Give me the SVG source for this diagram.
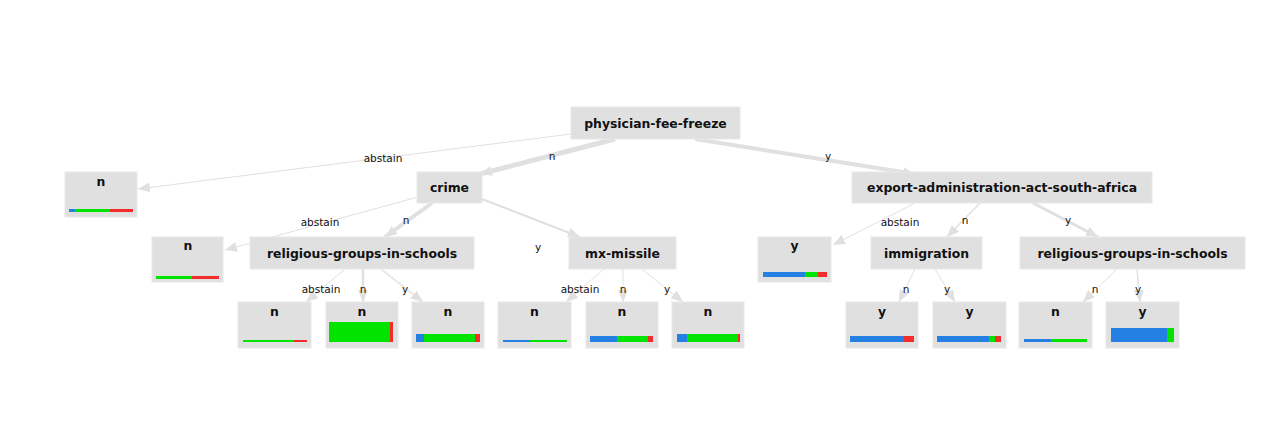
<svg xmlns="http://www.w3.org/2000/svg" width="1280" height="422" viewBox="0 0 1280 422">
<defs>
<style>
.box{fill:#e0e0e0;stroke:#e8e8e8;stroke-width:1}
.lbl{font-family:"DejaVu Sans",sans-serif;font-weight:bold;font-size:12.4px;fill:#111;text-anchor:middle}
.el{font-family:"DejaVu Sans",sans-serif;font-size:10.5px;fill:#111;text-anchor:middle}
.e{stroke:#e0e0e0;fill:none;stroke-linecap:butt}
.b{fill:#2480e2}
.g{fill:#00e400}
.r{fill:#f42c2c}
</style>
<marker id="ah" markerUnits="userSpaceOnUse" viewBox="0 0 12 10" markerWidth="12" markerHeight="10" refX="12" refY="5" orient="auto">
<path d="M0,0 L12,5 L0,10 z" fill="#e0e0e0"/>
</marker>
</defs>
<rect width="1280" height="422" fill="#fff"/>
<g id="edges">
<path class="e" d="M571,134 L138,189" stroke-width="1" marker-end="url(#ah)"/>
<path class="e" d="M615,139 L480,174" stroke-width="5" marker-end="url(#ah)"/>
<path class="e" d="M695,139 L915,174" stroke-width="4" marker-end="url(#ah)"/>
<path class="e" d="M418,197 L225,250" stroke-width="1" marker-end="url(#ah)"/>
<path class="e" d="M432,203 L385,237" stroke-width="4" marker-end="url(#ah)"/>
<path class="e" d="M482,199 L580,237" stroke-width="2" marker-end="url(#ah)"/>
<path class="e" d="M345,269 L306,302" stroke-width="1" marker-end="url(#ah)"/>
<path class="e" d="M363,269 L363,302" stroke-width="2.5" marker-end="url(#ah)"/>
<path class="e" d="M381,269 L423,302" stroke-width="1.5" marker-end="url(#ah)"/>
<path class="e" d="M604,269 L566,302" stroke-width="1" marker-end="url(#ah)"/>
<path class="e" d="M623,269 L623,302" stroke-width="1" marker-end="url(#ah)"/>
<path class="e" d="M642,269 L683,302" stroke-width="1" marker-end="url(#ah)"/>
<path class="e" d="M915,203 L833,245" stroke-width="1" marker-end="url(#ah)"/>
<path class="e" d="M980,203 L947,237" stroke-width="1.5" marker-end="url(#ah)"/>
<path class="e" d="M1033,203 L1098,237" stroke-width="3" marker-end="url(#ah)"/>
<path class="e" d="M915,269 L899,302" stroke-width="1" marker-end="url(#ah)"/>
<path class="e" d="M935,269 L955,302" stroke-width="1" marker-end="url(#ah)"/>
<path class="e" d="M1117,269 L1083,302" stroke-width="1" marker-end="url(#ah)"/>
<path class="e" d="M1137,269 L1140,302" stroke-width="1.5" marker-end="url(#ah)"/>
<text class="el" x="383" y="162">abstain</text>
<text class="el" x="552" y="160">n</text>
<text class="el" x="828" y="160">y</text>
<text class="el" x="320" y="226">abstain</text>
<text class="el" x="406" y="224">n</text>
<text class="el" x="538" y="251">y</text>
<text class="el" x="321" y="293">abstain</text>
<text class="el" x="363" y="293">n</text>
<text class="el" x="405" y="293">y</text>
<text class="el" x="580" y="293">abstain</text>
<text class="el" x="623" y="293">n</text>
<text class="el" x="667" y="293">y</text>
<text class="el" x="900" y="226">abstain</text>
<text class="el" x="965" y="224">n</text>
<text class="el" x="1068" y="224">y</text>
<text class="el" x="906" y="293">n</text>
<text class="el" x="947" y="293">y</text>
<text class="el" x="1095" y="293">n</text>
<text class="el" x="1138" y="293">y</text>
</g>
<g id="root"><rect class="box" x="571" y="107" width="169" height="32"/><text class="lbl" x="655.5" y="127.5">physician-fee-freeze</text></g>
<g id="leaf-a"><rect class="box" x="65" y="172" width="72" height="45"/><text class="lbl" x="101" y="186">n</text>
<rect class="b" x="69" y="209" width="6" height="3"/><rect class="g" x="75" y="209" width="35" height="3"/><rect class="r" x="110" y="209" width="23" height="3"/></g>
<g id="crime"><rect class="box" x="417" y="172" width="65" height="31"/><text class="lbl" x="449.5" y="192">crime</text></g>
<g id="export"><rect class="box" x="852" y="172" width="300" height="31"/><text class="lbl" x="1002" y="192">export-administration-act-south-africa</text></g>
<g id="leaf-ca"><rect class="box" x="152" y="237" width="71" height="45"/><text class="lbl" x="188" y="250">n</text>
<rect class="g" x="156" y="276" width="36" height="3"/><rect class="r" x="192" y="276" width="27" height="3"/></g>
<g id="rel-left"><rect class="box" x="250" y="237" width="224" height="32"/><text class="lbl" x="362" y="257.5">religious-groups-in-schools</text></g>
<g id="mx"><rect class="box" x="569" y="237" width="107" height="32"/><text class="lbl" x="622.5" y="257.5">mx-missile</text></g>
<g id="leaf-ea"><rect class="box" x="758" y="237" width="73" height="45"/><text class="lbl" x="794.5" y="250">y</text>
<rect class="b" x="763" y="272" width="42" height="5"/><rect class="g" x="805" y="272" width="13" height="5"/><rect class="r" x="818" y="272" width="9" height="5"/></g>
<g id="immigration"><rect class="box" x="871" y="237" width="111" height="32"/><text class="lbl" x="926.5" y="257.5">immigration</text></g>
<g id="rel-right"><rect class="box" x="1020" y="237" width="225" height="32"/><text class="lbl" x="1132.5" y="257.5">religious-groups-in-schools</text></g>
<g id="leaf-1"><rect class="box" x="238" y="302" width="73" height="46"/><text class="lbl" x="274.5" y="316">n</text>
<rect class="g" x="243" y="340" width="51" height="2"/><rect class="r" x="294" y="340" width="13" height="2"/></g>
<g id="leaf-2"><rect class="box" x="326" y="302" width="72" height="46"/><text class="lbl" x="362" y="316">n</text>
<rect class="g" x="329" y="322" width="61" height="20"/><rect class="r" x="390" y="322" width="3" height="20"/></g>
<g id="leaf-3"><rect class="box" x="412" y="302" width="72" height="46"/><text class="lbl" x="448" y="316">n</text>
<rect class="b" x="416" y="334" width="8" height="8"/><rect class="g" x="424" y="334" width="51" height="8"/><rect class="r" x="475" y="334" width="5" height="8"/></g>
<g id="leaf-4"><rect class="box" x="498" y="302" width="73" height="46"/><text class="lbl" x="534.5" y="316">n</text>
<rect class="b" x="503" y="340" width="27" height="2"/><rect class="g" x="530" y="340" width="37" height="2"/></g>
<g id="leaf-5"><rect class="box" x="586" y="302" width="72" height="46"/><text class="lbl" x="622" y="316">n</text>
<rect class="b" x="590" y="336" width="27" height="6"/><rect class="g" x="617" y="336" width="31" height="6"/><rect class="r" x="648" y="336" width="5" height="6"/></g>
<g id="leaf-6"><rect class="box" x="672" y="302" width="72" height="46"/><text class="lbl" x="708" y="316">n</text>
<rect class="b" x="677" y="334" width="10" height="8"/><rect class="g" x="687" y="334" width="51" height="8"/><rect class="r" x="738" y="334" width="2" height="8"/></g>
<g id="leaf-7"><rect class="box" x="846" y="302" width="72" height="46"/><text class="lbl" x="882" y="316">y</text>
<rect class="b" x="850" y="336" width="54" height="6"/><rect class="r" x="904" y="336" width="10" height="6"/></g>
<g id="leaf-8"><rect class="box" x="933" y="302" width="73" height="46"/><text class="lbl" x="969.5" y="316">y</text>
<rect class="b" x="937" y="336" width="52" height="6"/><rect class="g" x="989" y="336" width="6" height="6"/><rect class="r" x="995" y="336" width="6" height="6"/></g>
<g id="leaf-9"><rect class="box" x="1019" y="302" width="73" height="46"/><text class="lbl" x="1055.5" y="316">n</text>
<rect class="b" x="1024" y="339" width="27" height="3"/><rect class="g" x="1051" y="339" width="36" height="3"/></g>
<g id="leaf-10"><rect class="box" x="1106" y="302" width="73" height="46"/><text class="lbl" x="1142.5" y="316">y</text>
<rect class="b" x="1111" y="328" width="56" height="14"/><rect class="g" x="1167" y="328" width="7" height="14"/></g>
</svg>
